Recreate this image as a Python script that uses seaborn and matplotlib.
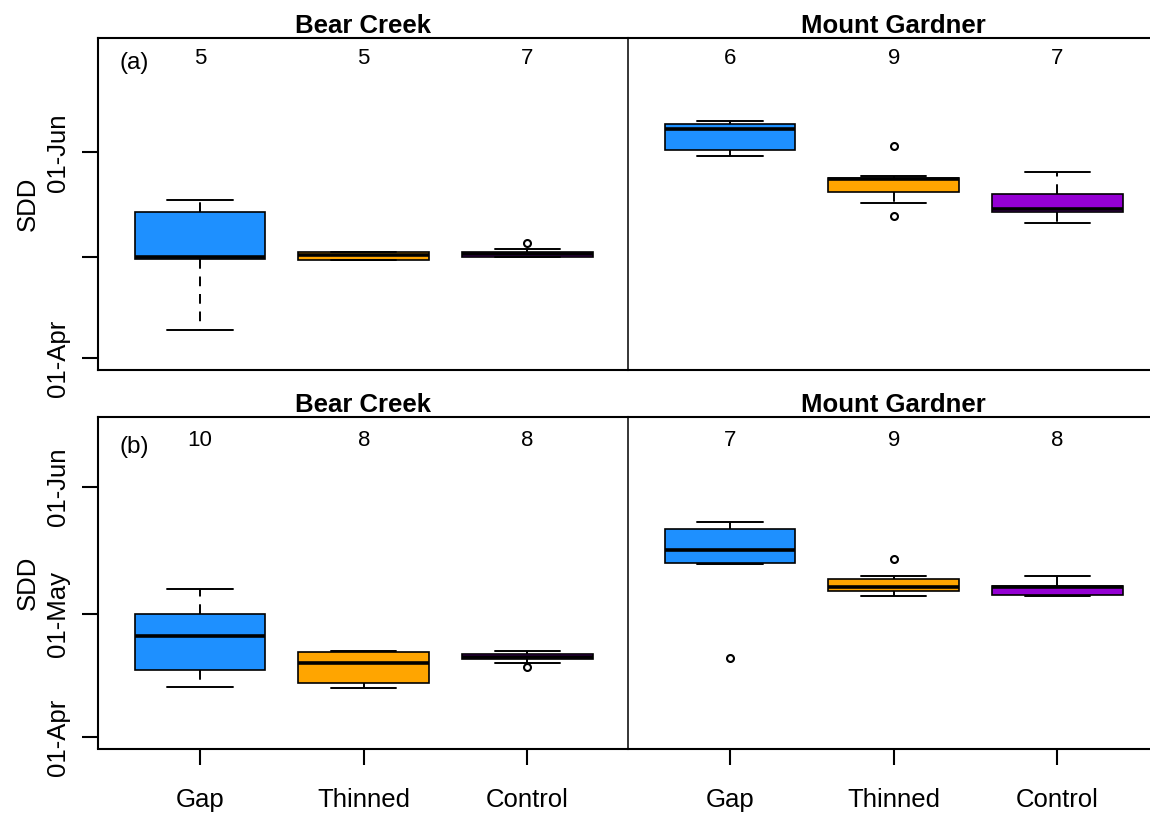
import numpy as np
import pandas as pd
import matplotlib
matplotlib.use("Agg")
import matplotlib.pyplot as plt
import matplotlib.transforms as mtransforms
import seaborn as sns

# ---------------- data (snow disappearance date, days after 1 April) ----------------
TREATMENTS = ["Gap", "Thinned", "Control"]
SITES = ["Bear Creek", "Mount Gardner"]
PANELS = ["(a)", "(b)"]
COLORS = ["#1E90FF", "#FFA500", "#9400D3"]

TICK_DAYS = [0, 30, 61]
TICK_LABELS_A = ["01-Apr", "", "01-Jun"]
TICK_LABELS_B = ["01-Apr", "01-May", "01-Jun"]

# panel (a)
a_bc_gap = [8.5, 29.3, 30.0, 43.2, 46.9]
a_bc_thinned = [29.0, 29.1, 30.5, 31.4, 31.4]
a_bc_control = [30.0, 30.05, 30.15, 30.8, 30.9, 32.3, 34.2]
a_mg_gap = [59.9, 60.0, 66.3, 69.3, 69.4, 70.4]
a_mg_thinned = [42.1, 46.1, 49.2, 51.0, 53.2, 53.3, 53.4, 54.1, 63.0]
a_mg_control = [40.2, 43.0, 43.6, 44.3, 47.0, 50.4, 55.2]

# panel (b)
b_bc_gap = [12.1, 14.0, 16.0, 17.0, 24.0, 25.4, 28.0, 30.5, 33.0, 36.0]
b_bc_thinned = [12.0, 12.5, 13.3, 17.8, 18.4, 20.5, 20.9, 20.9]
b_bc_control = [17.0, 18.1, 19.38, 19.4, 19.6, 20.0, 20.8, 21.0]
b_mg_gap = [19.2, 42.3, 42.5, 45.5, 49.5, 51.9, 52.5]
b_mg_thinned = [34.4, 35.0, 35.5, 36.0, 36.7, 37.5, 38.5, 39.3, 43.4]
b_mg_control = [34.4, 34.45, 34.55, 36.5, 36.7, 36.7, 36.8, 39.3]

DATA = {
    ("(a)", "Bear Creek"): [a_bc_gap, a_bc_thinned, a_bc_control],
    ("(a)", "Mount Gardner"): [a_mg_gap, a_mg_thinned, a_mg_control],
    ("(b)", "Bear Creek"): [b_bc_gap, b_bc_thinned, b_bc_control],
    ("(b)", "Mount Gardner"): [b_mg_gap, b_mg_thinned, b_mg_control],
}

rows = []
for (panel, site), groups in DATA.items():
    for trt, vals in zip(TREATMENTS, groups):
        for v in vals:
            rows.append({"panel": panel, "site": site, "treatment": trt, "sdd": v})
df = pd.DataFrame(rows)

# ---------------- styling ----------------
sns.set_style("white")
plt.rcParams["font.family"] = ["Liberation Sans", "DejaVu Sans"]
plt.rcParams["text.color"] = "black"
plt.rcParams["axes.labelcolor"] = "black"
plt.rcParams["xtick.color"] = "black"
plt.rcParams["ytick.color"] = "black"

W, H = 1150, 818
fig = plt.figure(figsize=(W / 100, H / 100), dpi=100)

def fx(px):
    return px / W

def fy(px):
    return 1 - px / H

row_geom = {
    "(a)": (38.3, 370.0, (-3.46, 94.76), TICK_LABELS_A),
    "(b)": (417.3, 748.5, (-2.83, 78.0), TICK_LABELS_B),
}
col_left = {"Bear Creek": 98.0, "Mount Gardner": 628.0}
panel_w = 530.0

TICK_FS = 18.5
N_FS = 16
P_FS = 17.5

for r, panel in enumerate(PANELS):
    top, bot, ylim, ylabels = row_geom[panel]
    for c, site in enumerate(SITES):
        left = col_left[site]
        ax = fig.add_axes([fx(left), fy(bot), panel_w / W, (bot - top) / H])
        ax.set_facecolor("none")
        sub = df[(df["panel"] == panel) & (df["site"] == site)]
        sns.boxplot(
            data=sub, x="treatment", y="sdd", hue="treatment",
            order=TREATMENTS, hue_order=TREATMENTS, palette=COLORS,
            saturation=1, width=0.8, linecolor="black", linewidth=1.2,
            legend=False,
            whiskerprops=dict(linestyle=(0, (5, 4)), linewidth=1.4),
            capprops=dict(linewidth=1.4),
            medianprops=dict(linewidth=2.6, color="black"),
            flierprops=dict(marker="o", markersize=5, markerfacecolor="none",
                            markeredgecolor="black", markeredgewidth=1.5),
            ax=ax,
        )
        ax.set_xlim(-0.623, 2.614)
        ax.set_ylim(*ylim)
        ax.set_xlabel("")
        ax.set_title(site, fontsize=TICK_FS, fontweight="bold", pad=4)

        for side in ["top", "bottom", "left", "right"]:
            ax.spines[side].set_visible(True)
            ax.spines[side].set_color("black")
            ax.spines[side].set_linewidth(1.5)
        if c == 0:
            ax.spines["right"].set_visible(False)
            ax.set_yticks(TICK_DAYS)
            ax.set_yticklabels(ylabels)
            for lab in ax.get_yticklabels():
                lab.set_rotation(90)
                lab.set_va("center")
            ax.tick_params(axis="y", left=True, length=11.5, width=1.5,
                           labelsize=TICK_FS, pad=9)
            ax.set_ylabel("SDD", fontsize=TICK_FS, labelpad=4)
            ax.text(0.04, 0.925 if r == 0 else 0.91, panel, transform=ax.transAxes,
                    ha="left", va="center", fontsize=P_FS)
        else:
            ax.spines["left"].set_linewidth(1.1)
            ax.set_yticks([])
            ax.set_ylabel("")

        if r == len(PANELS) - 1:
            ax.set_xticks(range(len(TREATMENTS)))
            ax.set_xticklabels(TREATMENTS)
            ax.tick_params(axis="x", bottom=True, length=11.5, width=1.5,
                           labelsize=TICK_FS, pad=17)
        else:
            ax.set_xticks([])

        trans = mtransforms.blended_transform_factory(ax.transData, ax.transAxes)
        ny = 0.938 if r == 0 else 0.931
        for i, vals in enumerate(DATA[(panel, site)]):
            ax.text(i, ny, str(len(vals)), transform=trans, ha="center",
                    va="center", fontsize=N_FS)

fig.savefig("out.png", dpi=100)
